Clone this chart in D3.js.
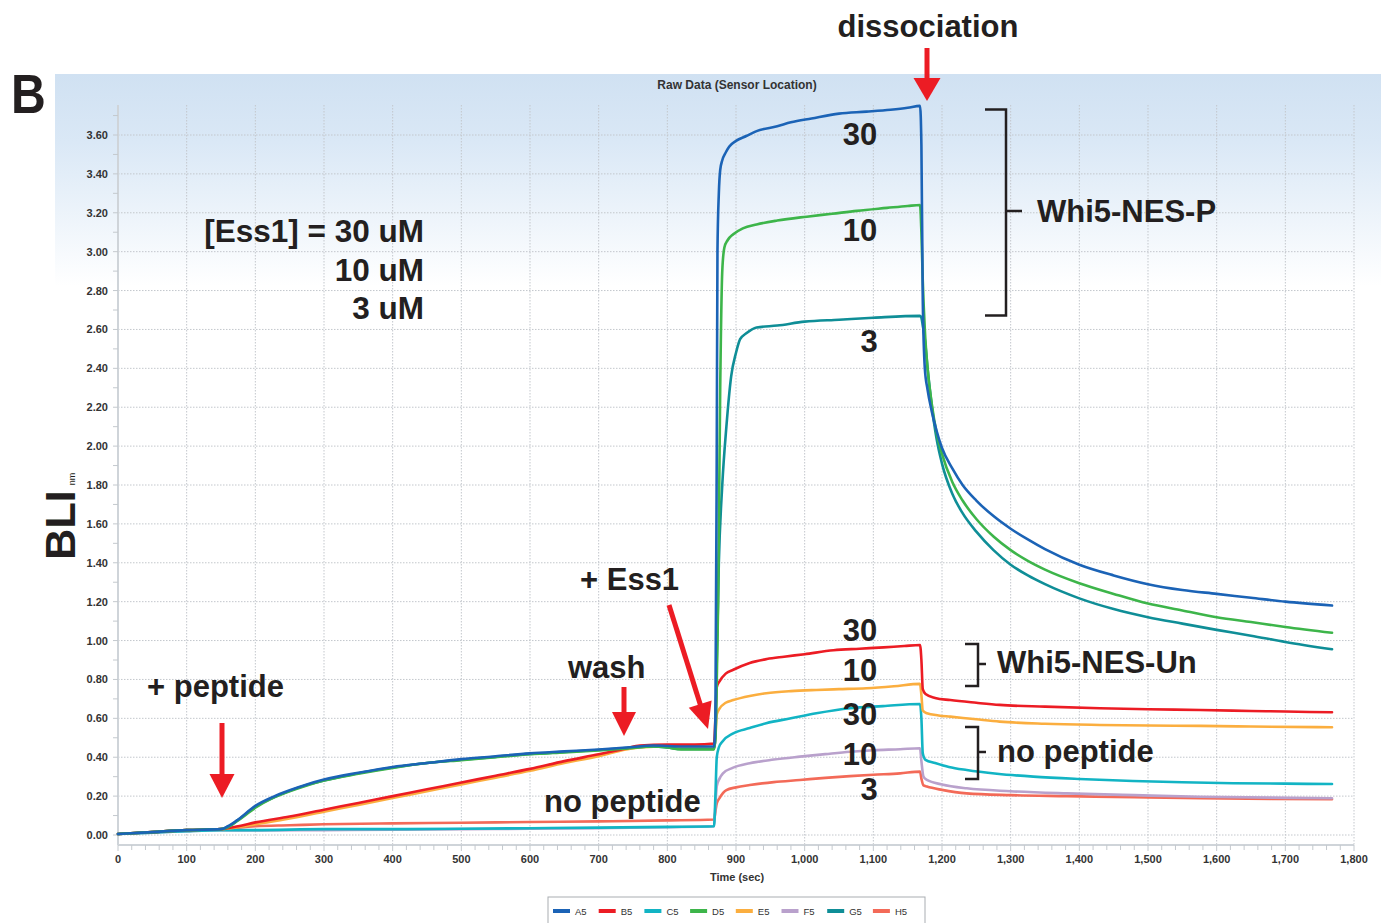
<!DOCTYPE html>
<html>
<head>
<meta charset="utf-8">
<script src="https://cdn.jsdelivr.net/npm/d3@7"></script>
<style>
  html, body { margin: 0; padding: 0; background: #ffffff; }
  svg { display: block; }
</style>
</head>
<body>
<svg id="chart" width="1381" height="923"></svg>
<script>
// ---- Sensor traces: [time (s), response (nm)] ----
const A5 = [[0,0.005],[50,0.015],[100,0.025],[150,0.03],[160,0.045],[175,0.08],[200,0.15],[225,0.195],[250,0.23],[275,0.26],[300,0.285],[350,0.32],[400,0.35],[450,0.37],[500,0.39],[550,0.405],[600,0.42],[650,0.43],[700,0.44],[740,0.45],[780,0.46],[820,0.455],[868,0.455],[870,0.6],[872,2.0],[873,3.0],[875,3.3],[877,3.42],[880,3.47],[885,3.51],[890,3.54],[900,3.57],[915,3.595],[930,3.62],[960,3.645],[980,3.665],[1010,3.685],[1050,3.71],[1090,3.72],[1125,3.73],[1150,3.74],[1168,3.75],[1170,3.55],[1172,2.75],[1175,2.4],[1179,2.29],[1185,2.18],[1192,2.08],[1200,1.99],[1215,1.885],[1230,1.80],[1250,1.72],[1275,1.64],[1300,1.575],[1325,1.52],[1350,1.47],[1400,1.39],[1450,1.335],[1500,1.29],[1550,1.26],[1600,1.24],[1650,1.22],[1700,1.20],[1768,1.18]];
const B5 = [[0,0.005],[50,0.015],[100,0.025],[150,0.03],[175,0.045],[200,0.065],[250,0.095],[300,0.13],[350,0.165],[400,0.2],[450,0.235],[500,0.27],[550,0.305],[600,0.34],[650,0.38],[700,0.415],[740,0.445],[760,0.46],[800,0.465],[840,0.465],[868,0.47],[870,0.6],[872,0.76],[876,0.79],[885,0.83],[896,0.85],[920,0.885],[945,0.905],[970,0.917],[1000,0.93],[1042,0.95],[1080,0.958],[1115,0.965],[1145,0.972],[1168,0.977],[1170,0.9],[1172,0.75],[1176,0.725],[1190,0.705],[1212,0.694],[1250,0.68],[1284,0.669],[1350,0.66],[1430,0.652],[1500,0.647],[1576,0.643],[1650,0.638],[1700,0.635],[1768,0.631]];
const C5 = [[0,0.005],[50,0.012],[100,0.02],[150,0.025],[200,0.025],[300,0.03],[400,0.03],[500,0.032],[600,0.035],[700,0.038],[800,0.042],[868,0.045],[870,0.2],[872,0.4],[875,0.45],[880,0.48],[896,0.523],[920,0.55],[944,0.575],[980,0.6],[1017,0.626],[1066,0.652],[1114,0.663],[1168,0.674],[1170,0.6],[1172,0.42],[1176,0.386],[1190,0.37],[1210,0.35],[1236,0.334],[1280,0.315],[1333,0.30],[1400,0.288],[1478,0.278],[1550,0.271],[1624,0.266],[1700,0.264],[1768,0.262]];
const D5 = [[0,0.005],[50,0.015],[100,0.025],[150,0.03],[160,0.04],[175,0.075],[200,0.14],[225,0.19],[250,0.225],[275,0.255],[300,0.28],[350,0.315],[400,0.345],[450,0.37],[500,0.385],[550,0.40],[600,0.415],[650,0.425],[700,0.435],[740,0.445],[780,0.455],[800,0.45],[820,0.44],[868,0.44],[870,0.5],[872,0.8],[874,1.2],[877,2.3],[880,2.9],[883,3.02],[888,3.06],[896,3.09],[910,3.12],[930,3.14],[960,3.16],[1003,3.18],[1040,3.195],[1076,3.21],[1120,3.225],[1150,3.235],[1168,3.24],[1170,3.1],[1172,2.85],[1175,2.6],[1179,2.4],[1185,2.22],[1192,2.07],[1200,1.96],[1215,1.815],[1230,1.72],[1250,1.625],[1275,1.535],[1300,1.465],[1325,1.41],[1350,1.365],[1400,1.295],[1450,1.24],[1500,1.19],[1550,1.155],[1600,1.12],[1650,1.095],[1700,1.07],[1768,1.04]];
const E5 = [[0,0.005],[50,0.015],[100,0.025],[150,0.03],[175,0.04],[200,0.055],[250,0.085],[300,0.12],[350,0.155],[400,0.19],[450,0.225],[500,0.26],[550,0.295],[600,0.33],[650,0.37],[700,0.405],[740,0.44],[760,0.45],[800,0.455],[830,0.45],[868,0.445],[870,0.5],[872,0.62],[876,0.65],[885,0.68],[896,0.694],[920,0.715],[944,0.729],[980,0.74],[1017,0.746],[1050,0.75],[1090,0.755],[1130,0.765],[1168,0.777],[1170,0.72],[1172,0.64],[1178,0.626],[1195,0.615],[1212,0.609],[1250,0.595],[1284,0.583],[1350,0.572],[1430,0.566],[1500,0.563],[1576,0.561],[1650,0.558],[1768,0.554]];
const F5 = [[0,0.005],[50,0.012],[100,0.02],[150,0.025],[200,0.023],[300,0.025],[400,0.027],[500,0.03],[600,0.032],[700,0.035],[800,0.04],[868,0.045],[870,0.15],[872,0.25],[876,0.29],[881,0.317],[895,0.345],[920,0.369],[955,0.388],[993,0.403],[1030,0.416],[1066,0.428],[1100,0.436],[1139,0.441],[1168,0.446],[1170,0.38],[1173,0.3],[1178,0.283],[1200,0.26],[1236,0.24],[1300,0.225],[1382,0.214],[1480,0.205],[1576,0.197],[1680,0.192],[1768,0.189]];
const G5 = [[0,0.005],[50,0.015],[100,0.025],[150,0.03],[160,0.042],[175,0.078],[200,0.145],[225,0.19],[250,0.227],[275,0.257],[300,0.28],[350,0.318],[400,0.347],[450,0.37],[500,0.387],[550,0.402],[600,0.417],[650,0.427],[700,0.437],[740,0.447],[780,0.455],[800,0.45],[820,0.442],[868,0.442],[870,0.5],[872,0.9],[875,1.4],[880,1.8],[886,2.1],[893,2.36],[900,2.48],[906,2.55],[915,2.58],[930,2.61],[960,2.62],[1000,2.64],[1050,2.65],[1100,2.66],[1168,2.67],[1170,2.66],[1172,2.62],[1175,2.55],[1179,2.4],[1185,2.21],[1192,2.04],[1200,1.91],[1215,1.755],[1230,1.655],[1250,1.56],[1275,1.465],[1300,1.39],[1325,1.335],[1350,1.29],[1400,1.217],[1450,1.162],[1500,1.12],[1550,1.087],[1600,1.055],[1650,1.025],[1700,0.993],[1768,0.955]];
const H5 = [[0,0.005],[50,0.015],[100,0.025],[150,0.03],[200,0.045],[250,0.05],[300,0.055],[400,0.06],[500,0.063],[600,0.067],[700,0.07],[800,0.075],[868,0.08],[870,0.12],[872,0.163],[876,0.19],[886,0.231],[900,0.245],[920,0.257],[955,0.272],[993,0.283],[1030,0.294],[1066,0.303],[1100,0.31],[1139,0.317],[1168,0.326],[1170,0.29],[1173,0.255],[1178,0.249],[1200,0.232],[1236,0.214],[1300,0.205],[1382,0.2],[1480,0.194],[1576,0.189],[1680,0.186],[1768,0.184]];

const seriesNames  = ["A5","B5","C5","D5","E5","F5","G5","H5"];
const seriesData   = [A5, B5, C5, D5, E5, F5, G5, H5];
const seriesColors = ["#1b63b6","#ec1c24","#12b4c4","#3db54a","#fbae3f","#b9a1cc","#0f8e97","#f36a58"];
// back-to-front drawing order
const drawOrder = ["H5","F5","C5","E5","B5","G5","D5","A5"];

const xTicks = d3.range(0, 1801, 100);
const xMinorTicks = d3.range(0, 1801, 20);
const yTicks = d3.range(0, 3.601, 0.2);
const yMinorTicks = d3.range(0, 3.701, 0.1);

// ---- layout ----
const svg = d3.select("#chart");
const X0 = 118, X1 = 1354, YTOP = 105, YAXIS = 845;
const x = d3.scaleLinear().domain([0, 1800]).range([X0, X1]);
const y = d3.scaleLinear().domain([0, 3.6]).range([835, 135]);

const defs = svg.append("defs");
const grad = defs.append("linearGradient").attr("id", "panelGrad")
  .attr("x1", 0).attr("y1", 0).attr("x2", 0).attr("y2", 1);
grad.append("stop").attr("offset", "0%").attr("stop-color", "#d0e1f2");
grad.append("stop").attr("offset", "8%").attr("stop-color", "#dae8f6");
grad.append("stop").attr("offset", "25%").attr("stop-color", "#ffffff");
grad.append("stop").attr("offset", "100%").attr("stop-color", "#ffffff");

svg.append("rect").attr("x", 55).attr("y", 74).attr("width", 1326).attr("height", 849)
  .attr("fill", "url(#panelGrad)");

const small = "'Liberation Sans', Arial, sans-serif";

svg.append("text").attr("x", 737).attr("y", 89).attr("text-anchor", "middle")
  .attr("font-family", small).attr("font-weight", "bold").attr("font-size", 12)
  .attr("fill", "#333").text("Raw Data (Sensor Location)");

// grid
const grid = svg.append("g").attr("stroke", "#c3c7cc").attr("stroke-width", 1)
  .attr("stroke-dasharray", "1.5,1.5");
grid.selectAll("line.v").data(xTicks.filter(d => d > 0)).join("line")
  .attr("x1", d => x(d)).attr("x2", d => x(d)).attr("y1", YTOP).attr("y2", YAXIS);
grid.selectAll("line.h").data(yTicks).join("line")
  .attr("x1", X0).attr("x2", X1).attr("y1", d => y(d)).attr("y2", d => y(d));

// y axis
const yAxisG = svg.append("g");
yAxisG.append("line").attr("x1", X0).attr("x2", X0).attr("y1", YTOP).attr("y2", YAXIS)
  .attr("stroke", "#cfd4d9").attr("stroke-width", 2);
yAxisG.selectAll("line.t").data(yMinorTicks).join("line")
  .attr("x1", X0 - 5).attr("x2", X0).attr("y1", d => y(d)).attr("y2", d => y(d))
  .attr("stroke", "#c4c9ce").attr("stroke-width", 1);
yAxisG.selectAll("text").data(yTicks).join("text")
  .attr("x", 108).attr("y", d => y(d) + 4).attr("text-anchor", "end")
  .attr("font-family", small).attr("font-weight", "bold").attr("font-size", 11)
  .attr("fill", "#333").text(d3.format(".2f"));

// x axis
const xAxisG = svg.append("g");
xAxisG.append("line").attr("x1", X0).attr("x2", X1).attr("y1", YAXIS).attr("y2", YAXIS)
  .attr("stroke", "#cfd4d9").attr("stroke-width", 2);
xAxisG.selectAll("line.t").data(xMinorTicks).join("line")
  .attr("x1", d => x(d)).attr("x2", d => x(d)).attr("y1", YAXIS).attr("y2", d => YAXIS + (d % 100 === 0 ? 6 : 5))
  .attr("stroke", "#c4c9ce").attr("stroke-width", 1);
xAxisG.selectAll("text").data(xTicks).join("text")
  .attr("x", d => x(d)).attr("y", 863).attr("text-anchor", "middle")
  .attr("font-family", small).attr("font-weight", "bold").attr("font-size", 11)
  .attr("fill", "#333").text(d3.format(","));
svg.append("text").attr("x", 737).attr("y", 881).attr("text-anchor", "middle")
  .attr("font-family", small).attr("font-weight", "bold").attr("font-size", 11)
  .attr("fill", "#333").text("Time (sec)");

// traces
const line = d3.line().x(d => x(d[0])).y(d => y(d[1])).curve(d3.curveMonotoneX);
const traces = svg.append("g").attr("fill", "none").attr("stroke-width", 2.6)
  .attr("stroke-linejoin", "round").attr("stroke-linecap", "round");
drawOrder.forEach(name => {
  const i = seriesNames.indexOf(name);
  traces.append("path").attr("d", line(seriesData[i])).attr("stroke", seriesColors[i]);
});

// legend
const lg = svg.append("g");
lg.append("rect").attr("x", 548).attr("y", 897).attr("width", 377).attr("height", 40)
  .attr("fill", "#fff").attr("stroke", "#a9adb2").attr("stroke-width", 1);
seriesNames.forEach((n, i) => {
  const lx = 553 + i * 45.7;
  lg.append("rect").attr("x", lx).attr("y", 909).attr("width", 17).attr("height", 4)
    .attr("fill", seriesColors[i]);
  lg.append("text").attr("x", lx + 22).attr("y", 914.5)
    .attr("font-family", small).attr("font-size", 9.5).attr("fill", "#333").text(n);
});

// ---- annotations ----
const big = "'Liberation Sans', Arial, Helvetica, sans-serif";
const ink = "#231f20";
function label(txt, tx, ty, size, anchor) {
  return svg.append("text").attr("x", tx).attr("y", ty).attr("text-anchor", anchor || "start")
    .attr("font-family", big).attr("font-weight", "bold").attr("font-size", size)
    .attr("fill", ink).text(txt);
}
svg.append("text").attr("transform", "translate(11,113) scale(0.86,1)")
  .attr("font-family", big).attr("font-weight", "bold").attr("font-size", 56)
  .attr("fill", ink).text("B");
label("dissociation", 928, 37, 31, "middle");
label("+ peptide", 147, 697, 31);
label("wash", 568, 678, 31);
label("+ Ess1", 580, 590, 31);
label("no peptide", 544, 812, 31);
label("[Ess1] = 30 uM", 424, 242, 31.5, "end");
label("10 uM", 424, 281, 31.5, "end");
label("3 uM", 424, 319, 31.5, "end");
label("30", 860, 145, 31, "middle");
label("10", 860, 241, 31, "middle");
label("3", 869, 352, 31, "middle");
label("30", 860, 641, 31, "middle");
label("10", 860, 681, 31, "middle");
label("30", 860, 725, 31, "middle");
label("10", 860, 765, 31, "middle");
label("3", 869, 800, 31, "middle");
label("Whi5-NES-P", 1037, 222, 31);
label("Whi5-NES-Un", 997, 673, 31);
label("no peptide", 997, 762, 31);

// y axis title with unit subscript
svg.append("text").attr("transform", "translate(75,525) rotate(-90)")
  .attr("text-anchor", "middle").attr("font-family", big).attr("font-weight", "bold")
  .attr("font-size", 43).attr("fill", ink).text("BLI");
svg.append("text").attr("transform", "translate(75,479) rotate(-90)")
  .attr("text-anchor", "middle").attr("font-family", big)
  .attr("font-size", 9).attr("fill", ink).text("nm");

// brackets
const br = svg.append("g").attr("fill", "none").attr("stroke", ink).attr("stroke-width", 2.5);
br.append("path").attr("d", "M985,109.5H1006V315.5H985M1006,211H1022");
br.append("path").attr("d", "M965,644H978V686H965M978,664H986");
br.append("path").attr("d", "M965,727H978V779H965M978,752H986");

// red arrows
function arrow(x1, y1, x2, y2, headLen, headHalf, shaft) {
  const dx = x2 - x1, dy = y2 - y1, L = Math.hypot(dx, dy);
  const ux = dx / L, uy = dy / L, px = -uy, py = ux;
  const bx = x2 - ux * headLen, by = y2 - uy * headLen;
  svg.append("line").attr("x1", x1).attr("y1", y1).attr("x2", bx + ux).attr("y2", by + uy)
    .attr("stroke", "#ec1c24").attr("stroke-width", shaft);
  svg.append("path")
    .attr("d", `M${x2},${y2}L${bx + px * headHalf},${by + py * headHalf}L${bx - px * headHalf},${by - py * headHalf}Z`)
    .attr("fill", "#ec1c24");
}
arrow(927, 48, 927, 101, 23, 13.5, 5);
arrow(222, 723, 222, 798, 24, 12.5, 5);
arrow(624, 687, 624, 736, 24, 12, 5);
arrow(669, 605, 708, 729, 26, 12, 5);
</script>
</body>
</html>
